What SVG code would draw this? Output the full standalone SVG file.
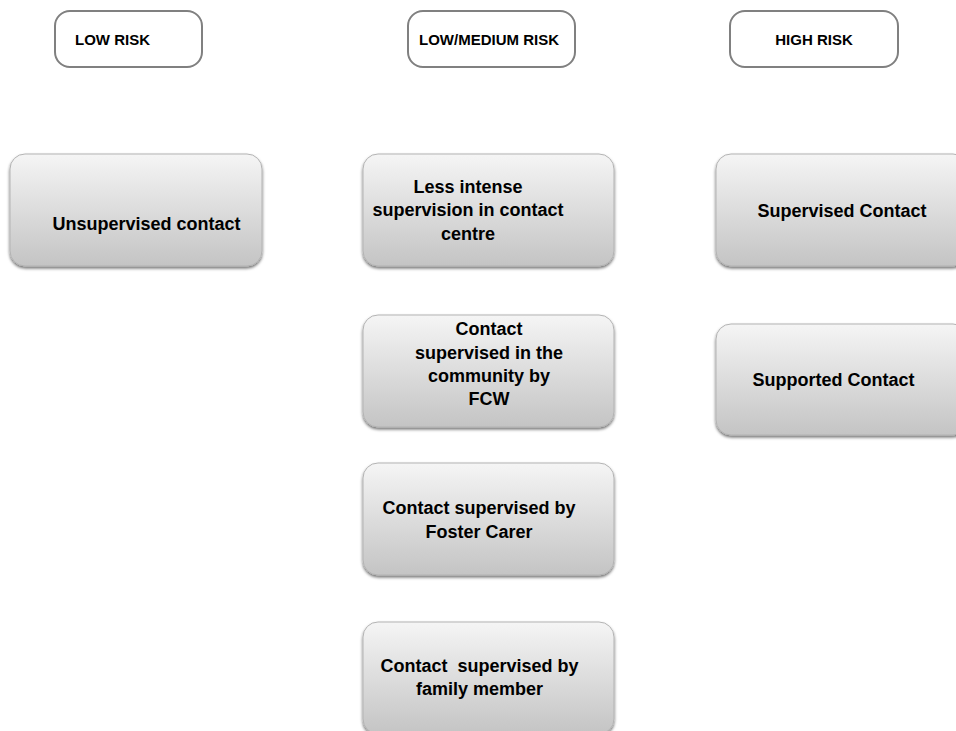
<svg xmlns="http://www.w3.org/2000/svg" width="956" height="731" viewBox="0 0 956 731">
  <defs>
    <linearGradient id="boxGrad" x1="0" y1="0" x2="0" y2="1">
      <stop offset="0" stop-color="#f5f5f5"/>
      <stop offset="1" stop-color="#c4c4c4"/>
    </linearGradient>
    <filter id="shadow" x="-10%" y="-10%" width="120%" height="130%">
      <feDropShadow dx="0" dy="2" stdDeviation="1.8" flood-color="#000" flood-opacity="0.55"/>
    </filter>
  </defs>
  <style>
    .hdr { fill: #ffffff; stroke: #808080; stroke-width: 2; }
    .box { fill: url(#boxGrad); stroke: #b3b3b3; stroke-width: 1; filter: url(#shadow); }
    .ht { font-family: "Liberation Sans", Arial, sans-serif; font-weight: bold; font-size: 15px; fill: #000; }
    .bt { font-family: "Liberation Sans", Arial, sans-serif; font-weight: bold; font-size: 18px; fill: #000; text-anchor: middle; white-space: pre; }
  </style>
  <rect width="956" height="731" fill="#ffffff"/>

  <g id="hdr-low">
    <rect class="hdr" x="55" y="11" width="147" height="56" rx="15"/>
    <text class="ht" x="75" y="45">LOW RISK</text>
  </g>
  <g id="hdr-lowmed">
    <rect class="hdr" x="408" y="11" width="167" height="56" rx="15"/>
    <text class="ht" x="419" y="45">LOW/MEDIUM RISK</text>
  </g>
  <g id="hdr-high">
    <rect class="hdr" x="730" y="11" width="168" height="56" rx="15"/>
    <text class="ht" x="814" y="45" text-anchor="middle">HIGH RISK</text>
  </g>

  <g id="unsupervised">
    <rect class="box" x="10" y="154" width="252" height="112" rx="15"/>
    <text class="bt" x="146.5" y="230">Unsupervised contact</text>
  </g>
  <g id="less-intense">
    <rect class="box" x="363" y="154" width="251" height="112" rx="15"/>
    <text class="bt" x="468" y="193">Less intense</text>
    <text class="bt" x="468" y="216">supervision in contact</text>
    <text class="bt" x="468" y="240">centre</text>
  </g>
  <g id="community">
    <rect class="box" x="363" y="315" width="251" height="112" rx="15"/>
    <text class="bt" x="489" y="335">Contact</text>
    <text class="bt" x="489" y="359">supervised in the</text>
    <text class="bt" x="489" y="382">community by</text>
    <text class="bt" x="489" y="405">FCW</text>
  </g>
  <g id="foster">
    <rect class="box" x="363" y="463" width="251" height="112" rx="15"/>
    <text class="bt" x="479" y="514">Contact supervised by</text>
    <text class="bt" x="479" y="538">Foster Carer</text>
  </g>
  <g id="family">
    <rect class="box" x="363" y="622" width="251" height="112" rx="15"/>
    <text class="bt" x="479.5" y="672">Contact  supervised by</text>
    <text class="bt" x="479.5" y="695">family member</text>
  </g>
  <g id="supervised">
    <rect class="box" x="716" y="154" width="252" height="112" rx="15"/>
    <text class="bt" x="842" y="217">Supervised Contact</text>
  </g>
  <g id="supported">
    <rect class="box" x="716" y="324" width="252" height="111" rx="15"/>
    <text class="bt" x="833.5" y="386">Supported Contact</text>
  </g>

  <g id="connectors"/>
</svg>
